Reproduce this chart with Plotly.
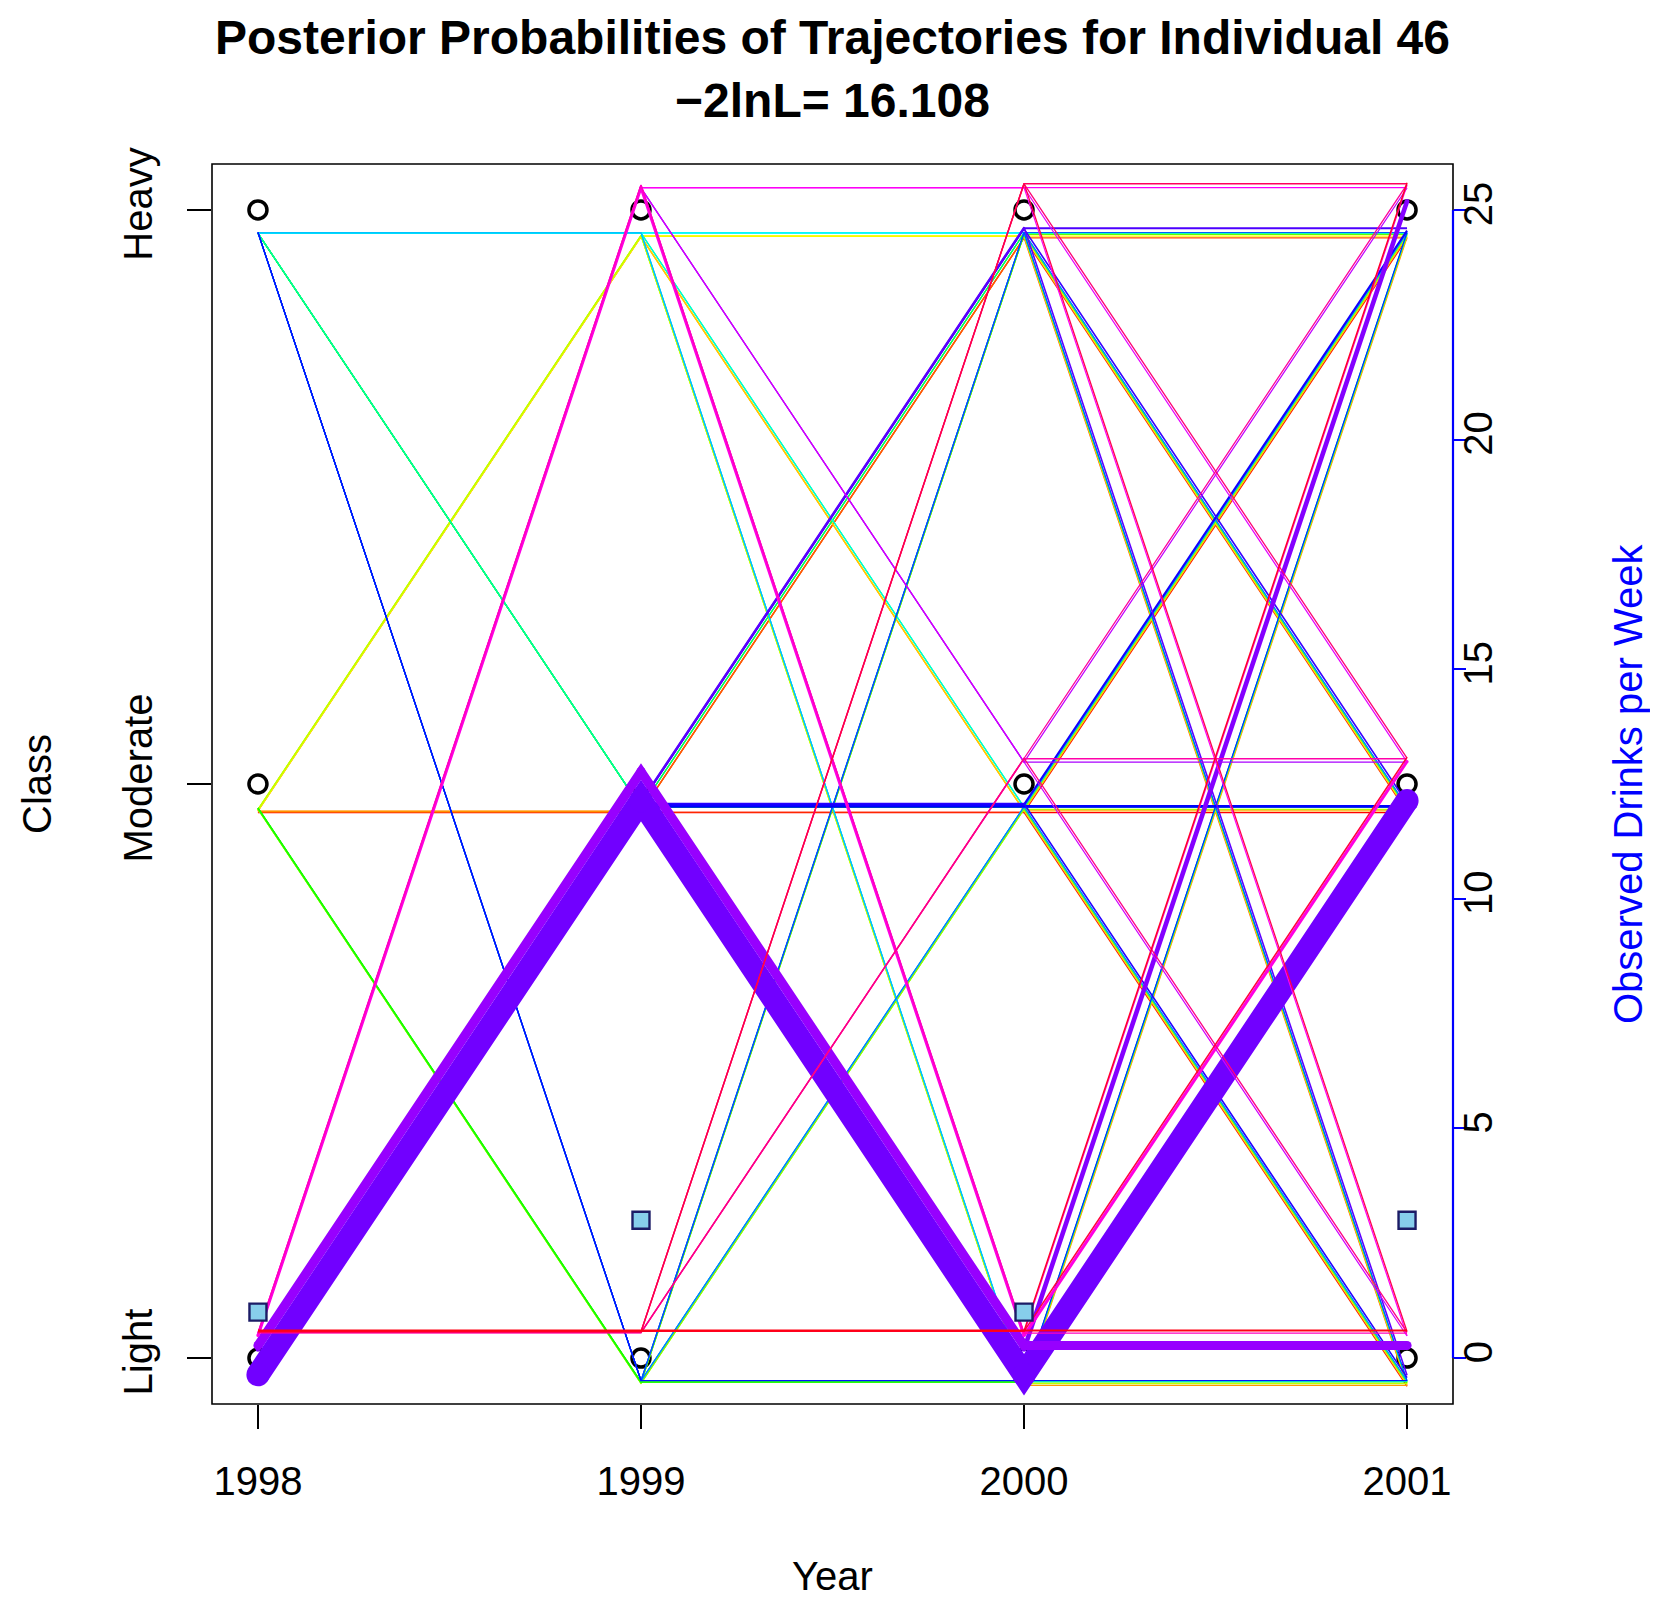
import colorsys
import plotly.graph_objects as go

# ---------------- data ----------------
years = [1998, 1999, 2000, 2001]
class_labels = ["Light", "Moderate", "Heavy"]
class_values = [1, 2, 3]
class_code = {"L": 1, "M": 2, "H": 3}

observed_drinks = [1, 3, 1, 3]
drink_ticks = [0, 5, 10, 15, 20, 25]

# all trajectories, in the order they are drawn
trajectories = [
    "MMMM", "MMMH", "MMML", "MMHM", "MMHH", "MMHL", "MMLM", "MMLH", "MMLL",
    "MHMM", "MHMH", "MHML", "MHHM", "MHHH", "MHHL", "MHLM", "MHLH", "MHLL",
    "MLMM", "MLMH", "MLML", "MLHM", "MLHH", "MLHL", "MLLM", "MLLH", "MLLL",
    "HMMM", "HMMH", "HMML", "HMHM", "HMHH", "HMHL", "HMLM", "HMLH", "HMLL",
    "HHMM", "HHMH", "HHML", "HHHM", "HHHH", "HHHL", "HHLM", "HHLH", "HHLL",
    "HLMM", "HLMH", "HLML", "HLHM", "HLHH", "HLHL", "HLLM", "HLLH", "HLLL",
    "LMMM", "LMMH", "LMML", "LMHM", "LMHH", "LMHL", "LMLM", "LMLH", "LMLL",
    "LHMM", "LHMH", "LHML", "LHHM", "LHHH", "LHHL", "LHLM", "LHLH", "LHLL",
    "LLMM", "LLMH", "LLML", "LLHM", "LLHH", "LLHL", "LLLM", "LLLH", "LLLL",
]

posterior = [
    0.004, 0.003, 0.003, 0.003, 0.004, 0.003, 0.003, 0.003, 0.004,
    0.003, 0.004, 0.003, 0.004, 0.005, 0.003, 0.003, 0.002, 0.003,
    0.003, 0.003, 0.004, 0.003, 0.004, 0.003, 0.003, 0.003, 0.004,
    0.0006, 0.0008, 0.0007, 0.0008, 0.0009, 0.0006, 0.0007, 0.0008, 0.0007,
    0.0007, 0.0008, 0.0006, 0.0008, 0.0010, 0.0007, 0.0006, 0.0008, 0.0007,
    0.0007, 0.0008, 0.0006, 0.0008, 0.0009, 0.0007, 0.0007, 0.0008, 0.0007,
    0.03, 0.02, 0.01, 0.01, 0.02, 0.01, 0.44, 0.07, 0.16,
    0.002, 0.002, 0.002, 0.002, 0.002, 0.002, 0.04, 0.003, 0.005,
    0.004, 0.004, 0.004, 0.004, 0.006, 0.004, 0.008, 0.006, 0.02,
]

title_text = "Posterior Probabilities of Trajectories for Individual 46<br>\u22122lnL= 16.108"

# ---------------- styling ----------------
FONT = "Liberation Sans, Arial, Helvetica, sans-serif"
Y_MIN, Y_MAX = 0.92, 3.08          # class axis
X_MIN, X_MAX = 1997.88, 2001.12
# right axis: 0 drinks at Light, 25 drinks at Heavy
def class_to_drinks(c):
    return (c - 1) * 12.5

n = len(trajectories)
colors = []
for i in range(n):
    r, g, b = colorsys.hsv_to_rgb(i / n, 1, 1)
    colors.append("rgb(%d,%d,%d)" % (round(r * 255), round(g * 255), round(b * 255)))

fig = go.Figure()

# reference circles at each year / class
cx, cy = [], []
for yr in years:
    for cv in class_values:
        cx.append(yr)
        cy.append(cv)
fig.add_trace(go.Scatter(
    x=cx, y=cy, mode="markers",
    marker=dict(symbol="circle-open", size=18, color="black", line=dict(width=3.5, color="black")),
    showlegend=False, hoverinfo="skip"))

# trajectories
cum = 0.0
for i, (traj, p) in enumerate(zip(trajectories, posterior)):
    offset = -0.05 + 0.1 * cum
    cum += p
    width = 1.1 + 50 * p
    ys = [class_code[ch] + offset for ch in traj]
    if width > 3:
        fig.add_trace(go.Scatter(
            x=years, y=ys, mode="lines+markers",
            line=dict(color=colors[i], width=width),
            marker=dict(size=width, color=colors[i], line=dict(width=0)),
            showlegend=False, hoverinfo="skip"))
    else:
        fig.add_trace(go.Scatter(
            x=years, y=ys, mode="lines",
            line=dict(color=colors[i], width=width),
            showlegend=False, hoverinfo="skip"))

# observed drinks (right axis)
fig.add_trace(go.Scatter(
    x=years, y=observed_drinks, mode="markers", yaxis="y2",
    marker=dict(symbol="square", size=17, color="#87CEEB", line=dict(width=2.4, color="#1c1c66")),
    showlegend=False, hoverinfo="skip"))

# page body has an 8px margin: margins below compensate so the plot box lands at
# x 212..1453, y 164..1404 of the window
fig.update_layout(
    width=1658, height=1600,
    margin=dict(l=204, r=213, t=156, b=204),
    paper_bgcolor="white", plot_bgcolor="white",
    font=dict(family=FONT, size=40, color="black"),
    title=dict(text="<b>" + title_text + "</b>", x=0.5, xref="paper", xanchor="center",
               y=0.971, yref="container", yanchor="top",
               font=dict(family=FONT, size=48, color="black")),
    xaxis=dict(range=[X_MIN, X_MAX], tickvals=years, ticktext=[str(y) for y in years],
               ticks="outside", ticklen=24, tickwidth=1.6, tickcolor="black",
               showgrid=False, zeroline=False, showline=False,
               ticklabelstandoff=18, tickfont=dict(size=40)),
    yaxis=dict(range=[Y_MIN, Y_MAX], tickvals=class_values, ticktext=class_labels,
               tickangle=-90, ticks="outside", ticklen=24, tickwidth=1.6, tickcolor="black",
               showgrid=False, zeroline=False, showline=False,
               ticklabelstandoff=19, tickfont=dict(size=40)),
    yaxis2=dict(range=[class_to_drinks(Y_MIN), class_to_drinks(Y_MAX)], overlaying="y", side="right",
                tickvals=drink_ticks, ticktext=[str(t) for t in drink_ticks],
                tickangle=-90, ticks="outside", ticklen=12, tickwidth=2, tickcolor="#0000FF",
                showgrid=False, zeroline=False, showline=False,
                ticklabelstandoff=-22, tickfont=dict(size=40, color="black")),
    shapes=[
        dict(type="rect", xref="paper", yref="paper", x0=0, x1=1, y0=0, y1=1,
             line=dict(color="black", width=1.6), layer="above"),
        dict(type="line", xref="paper", yref="y2", x0=1, x1=1, y0=drink_ticks[0], y1=drink_ticks[-1],
             line=dict(color="#0000FF", width=2.2), layer="above"),
    ],
    annotations=[
        dict(text="Year", xref="paper", yref="paper", x=0.5, y=0, yshift=-172,
             xanchor="center", yanchor="middle", showarrow=False, font=dict(size=40)),
        dict(text="Class", xref="paper", yref="paper", x=0, y=0.5, xshift=-175,
             xanchor="center", yanchor="middle", textangle=-90, showarrow=False, font=dict(size=40)),
        dict(text="Observed Drinks per Week", xref="paper", yref="paper", x=1, y=0.5, xshift=175,
             xanchor="center", yanchor="middle", textangle=-90, showarrow=False,
             font=dict(size=40, color="#0000FF")),
    ],
)

fig.write_html("out.html")
